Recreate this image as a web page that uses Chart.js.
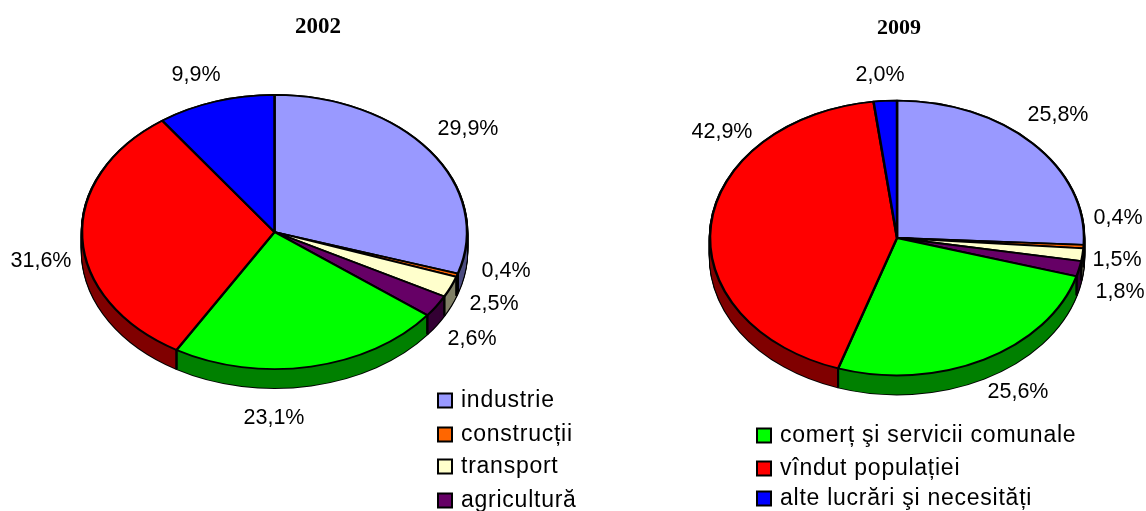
<!DOCTYPE html>
<html>
<head>
<meta charset="utf-8">
<script src="https://cdn.jsdelivr.net/npm/chart.js@4/dist/chart.umd.js"></script>
<style>
    body { margin: 0; background: #fff; width: 1146px; height: 511px; overflow: hidden; position: relative; }
    canvas { position: absolute; top: 0; }
</style>
</head>
<body>
<canvas id="pie2002" style="left:0;width:636px;height:511px"></canvas>
<canvas id="pie2009" style="left:652px;width:494px;height:511px"></canvas>
<script>
// Data
const categories = ['industrie', 'construcții', 'transport', 'agricultură',
    'comerț şi servicii comunale', 'vîndut populației', 'alte lucrări şi necesități'];
const values2002 = [29.9, 0.4, 2.5, 2.6, 23.1, 31.6, 9.9];
const values2009 = [25.8, 0.4, 1.5, 1.8, 25.6, 42.9, 2.0];
const colors = ['#9999FF', '#FF6600', '#FFFFCC', '#660066', '#00FF00', '#FF0000', '#0000FF'];
const sideColors = ['#4D4D80', '#803300', '#808066', '#330033', '#008000', '#800000', '#000080'];

// Layout only: page position of each value label, and of the legend rows
const labelAt2002 = [[468, 129], [506, 271], [494, 304], [472, 339], [274, 418], [41, 261], [196, 75]];
const labelAt2009 = [[1058, 115], [1118, 218], [1117, 260], [1120, 292], [1018, 392], [722, 132], [880, 75]];
const legend2002 = [[0, 437, 400], [1, 437, 434], [2, 437, 466], [3, 437, 500]];
const legend2009 = [[4, 756, 435], [5, 756, 468], [6, 756, 498]];

const DEPTH = 19;       // height of the side wall in px
const BORDER = 2.5;

function drawTilted(ctx, arc, squash, dy, override) {
    ctx.save();
    ctx.translate(arc.x, arc.y + dy);
    ctx.scale(1, squash);
    ctx.translate(-arc.x, -arc.y);
    const saved = arc.options;
    arc.options = Object.create(saved, override);
    arc.draw(ctx);
    arc.options = saved;
    ctx.restore();
}

function prop(v) {
    return { value: v };
}

// Turns the flat pie into a tilted disc with a side wall, adds title, labels and legend
function tiltPlugin(cfg) {
    const { squash, values, labelAt, legendRows } = cfg;
    return {
        id: 'tilt',
        beforeDatasetsDraw(chart) {
            const ctx = chart.ctx;
            const arcs = chart.getDatasetMeta(0).data;

            // black silhouette first, gives the outline of the wall
            for (let d = DEPTH; d >= 0; d--) {
                arcs.forEach(a => drawTilted(ctx, a, squash, d, {
                    backgroundColor: prop('#000'), borderColor: prop('#000')
                }));
            }
            // wall fill
            for (let d = DEPTH; d >= 1; d--) {
                arcs.forEach((a, i) => drawTilted(ctx, a, squash, d, {
                    backgroundColor: prop(sideColors[i]), borderWidth: prop(0)
                }));
            }
            // vertical seams on the visible front side
            ctx.save();
            ctx.strokeStyle = '#000';
            ctx.lineWidth = 2;
            arcs.forEach(a => {
                [a.startAngle, a.endAngle].forEach(angle => {
                    if (Math.sin(angle) <= 0) return;
                    const px = a.x + a.outerRadius * Math.cos(angle);
                    const py = a.y + a.outerRadius * squash * Math.sin(angle);
                    ctx.beginPath();
                    ctx.moveTo(px, py);
                    ctx.lineTo(px, py + DEPTH);
                    ctx.stroke();
                });
            });
            ctx.restore();

            // top face, drawn by the library in the squashed context
            const a0 = arcs[0];
            ctx.save();
            ctx.translate(a0.x, a0.y);
            ctx.scale(1, squash);
            ctx.translate(-a0.x, -a0.y);
        },
        afterDatasetsDraw(chart) {
            const ctx = chart.ctx;
            ctx.restore();

            const offsetX = chart.canvas.offsetLeft;
            ctx.save();
            ctx.fillStyle = '#000';
            ctx.textBaseline = 'middle';
            ctx.textAlign = 'center';

            // title
            ctx.font = 'bold ' + cfg.titleSize + 'px "Liberation Serif", "Times New Roman", serif';
            ctx.fillText(cfg.title, cfg.titleAt[0] - offsetX, cfg.titleAt[1]);

            // value labels
            ctx.font = '21.5px "Liberation Sans", Arial, sans-serif';
            values.forEach((v, i) => {
                const text = v.toFixed(1).replace('.', ',') + '%';
                ctx.fillText(text, labelAt[i][0] - offsetX, labelAt[i][1]);
            });

            // legend
            ctx.textAlign = 'left';
            ctx.font = '23px "Liberation Sans", Arial, sans-serif';
            ctx.letterSpacing = '0.75px';
            legendRows.forEach(row => {
                const [i, x, y] = row;
                ctx.fillStyle = colors[i];
                ctx.strokeStyle = '#000';
                ctx.lineWidth = 2;
                ctx.fillRect(x - offsetX + 1, y - 6.5, 14, 14);
                ctx.strokeRect(x - offsetX + 1, y - 6.5, 14, 14);
                ctx.fillStyle = '#000';
                ctx.fillText(categories[i], x - offsetX + 24, y + 1);
            });
            ctx.restore();
        }
    };
}

function makePie(id, radius, padding, cfg) {
    return new Chart(document.getElementById(id), {
        type: 'pie',
        data: {
            labels: categories,
            datasets: [{
                data: cfg.values,
                backgroundColor: colors,
                borderColor: '#000',
                borderWidth: BORDER,
                clip: false
            }]
        },
        options: {
            responsive: false,
            animation: false,
            radius: radius,
            layout: { padding: padding },
            plugins: {
                legend: { display: false },
                tooltip: { enabled: false }
            }
        },
        plugins: [tiltPlugin(cfg)]
    });
}

const setSize = (id, w, h) => {
    const c = document.getElementById(id);
    c.width = w;
    c.height = h;
};
setSize('pie2002', 636, 511);
setSize('pie2009', 494, 511);

makePie('pie2002', 192.5, { left: 0, right: 87, top: 0, bottom: 47 }, {
    title: '2002', titleAt: [318, 27], titleSize: 23,
    squash: 0.712, values: values2002, labelAt: labelAt2002, legendRows: legend2002
});
makePie('pie2009', 187, { left: 0, right: 4, top: 0, bottom: 35 }, {
    title: '2009', titleAt: [899, 28], titleSize: 22,
    squash: 0.735, values: values2009, labelAt: labelAt2009, legendRows: legend2009
});
</script>
</body>
</html>
